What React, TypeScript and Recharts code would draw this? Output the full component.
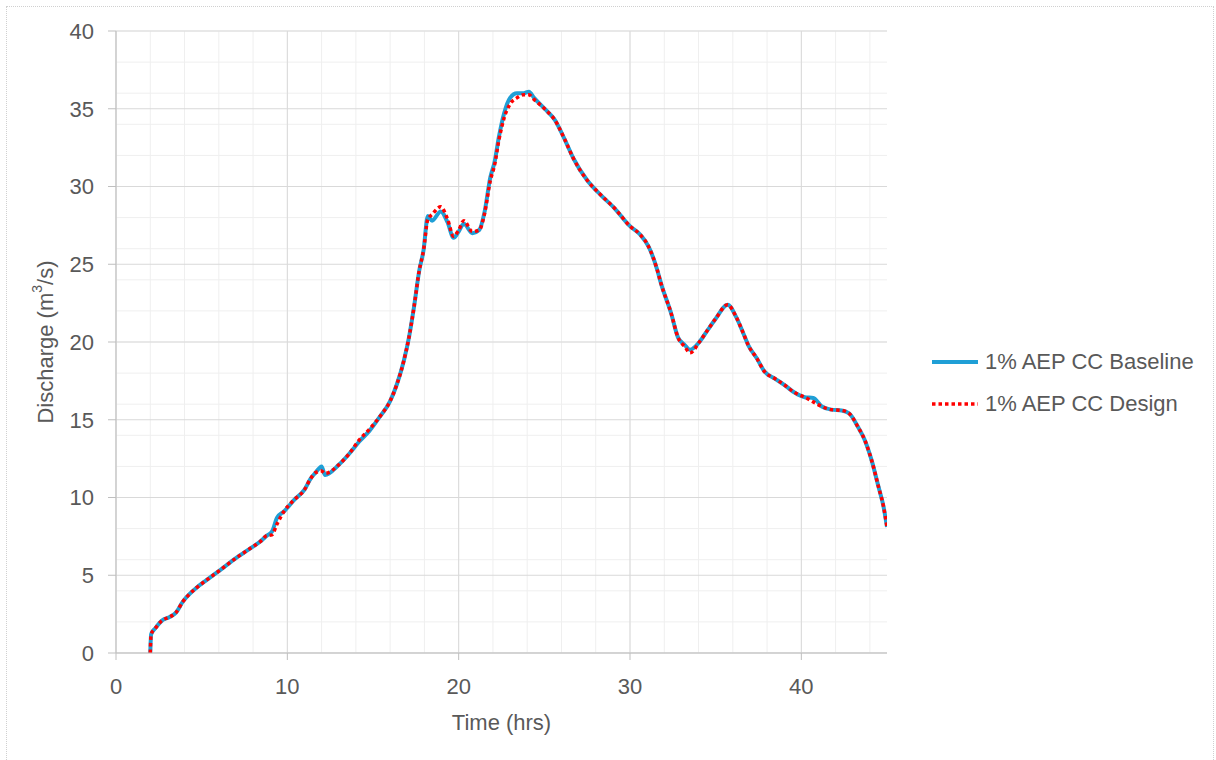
import React from 'react';
import { LineChart, Line, XAxis, YAxis, CartesianGrid, Legend, Label } from 'recharts';

// hydrograph values
const timeHrs = [
  2.0, 2.05, 2.3, 2.7, 3.1, 3.5, 3.9, 4.3, 4.7, 5.3,
  6.1, 7.0, 7.8, 8.4, 8.8, 9.1, 9.4, 9.8, 10.4, 11.0,
  11.35, 11.65, 12.0, 12.2, 13.0, 13.6, 14.2, 14.8, 15.4, 16.0,
  16.4, 16.8, 17.1, 17.4, 17.7, 17.95, 18.2, 18.45, 18.95, 19.35,
  19.7, 20.0, 20.3, 20.8, 21.2, 21.5, 21.85, 22.1, 22.35, 22.65,
  23.0, 23.4, 23.8, 24.1, 24.4, 25.2, 25.6, 26.2, 26.7, 27.5,
  28.3, 29.1, 30.0, 30.6, 31.1, 31.6, 31.8, 32.4, 32.8, 33.2,
  33.5, 34.05, 34.55, 35.0, 35.7, 36.2, 36.6, 36.9, 37.4, 37.85,
  38.45, 39.0, 39.6, 40.2, 40.7, 41.2, 41.75, 42.35, 42.8, 43.3,
  43.7, 44.1, 44.5, 44.8, 45.0,
];

const baselineQ = [
  0, 1.2, 1.6, 2.1, 2.3, 2.6, 3.3, 3.8, 4.2, 4.7,
  5.35, 6.1, 6.7, 7.15, 7.55, 7.8, 8.7, 9.1, 9.85, 10.5,
  11.2, 11.6, 12.0, 11.45, 12.1, 12.8, 13.6, 14.3, 15.2, 16.2,
  17.3, 18.8, 20.3, 22.3, 24.6, 25.9, 28.1, 27.8, 28.4, 27.7,
  26.7, 27.1, 27.6, 27.0, 27.2, 28.3, 30.6, 31.6, 33.2, 34.7,
  35.7, 36.0, 36.0, 36.1, 35.7, 34.8, 34.3, 33.0, 31.8, 30.4,
  29.45, 28.6, 27.45, 26.9, 26.1, 24.6, 23.8, 21.85, 20.3, 19.8,
  19.5, 20.0, 20.8, 21.5, 22.4, 21.6, 20.6, 19.8, 18.95, 18.1,
  17.65, 17.25, 16.75, 16.45, 16.4, 15.85, 15.65, 15.6, 15.4, 14.55,
  13.7, 12.4, 10.7, 9.4, 8.1,
];

const designQ = [
  0, 1.2, 1.6, 2.1, 2.3, 2.6, 3.3, 3.8, 4.2, 4.7,
  5.35, 6.1, 6.7, 7.15, 7.55, 7.6, 8.3, 9.1, 9.85, 10.5,
  11.2, 11.6, 11.7, 11.55, 12.1, 12.8, 13.7, 14.4, 15.2, 16.2,
  17.3, 18.8, 20.3, 22.3, 24.6, 25.9, 27.9, 28.2, 28.7, 27.9,
  26.8, 27.2, 27.8, 27.1, 27.2, 28.2, 30.4, 31.4, 33.0, 34.4,
  35.3, 35.7, 35.9, 35.9, 35.6, 34.8, 34.3, 33.0, 31.8, 30.4,
  29.45, 28.6, 27.45, 26.9, 26.1, 24.6, 23.8, 21.85, 20.3, 19.7,
  19.3, 20.0, 20.8, 21.5, 22.4, 21.6, 20.6, 19.8, 18.95, 18.1,
  17.65, 17.25, 16.75, 16.45, 16.15, 15.85, 15.65, 15.6, 15.4, 14.55,
  13.7, 12.4, 10.7, 9.4, 8.1,
];

const xTicks = [0, 10, 20, 30, 40];
const yTicks = [0, 5, 10, 15, 20, 25, 30, 35, 40];
const xMinor = Array.from({ length: 23 }, (_, i) => i * 2);
const yMinor = Array.from({ length: 41 }, (_, i) => i);

const seriesNames = ['1% AEP CC Baseline', '1% AEP CC Design'];

const data = timeHrs.map((t, i) => ({ t, baseline: baselineQ[i], design: designQ[i] }));

const FONT = '"Liberation Sans", Arial, sans-serif';
const TEXT = '#595959';

const renderLegend = () => (
  <div style={{ fontFamily: FONT, fontSize: 22, color: TEXT }}>
    {seriesNames.map((name, i) => (
      <div key={name} style={{ display: 'flex', alignItems: 'center', height: 42 }}>
        <svg width={46} height={6} style={{ marginRight: 7 }}>
          {i === 0 ? (
            <line x1={0} y1={3} x2={46} y2={3} stroke="#1f9fd6" strokeWidth={4} />
          ) : (
            <line x1={0} y1={3} x2={46} y2={3} stroke="#ff0000" strokeWidth={3.5} strokeDasharray="3.5 3" />
          )}
        </svg>
        <span>{name}</span>
      </div>
    ))}
  </div>
);

const App: React.FC = () => {
  return (
    <div style={{ position: 'absolute', left: 0, top: 0, width: 1216, height: 760, background: '#fff', overflow: 'hidden' }}>
      <div style={{ position: 'absolute', left: 6, top: 6, width: 1206, height: 770, border: '1px dotted #d0d0d0' }} />
      <LineChart
        width={1216}
        height={760}
        data={data}
        margin={{ top: 31, right: 49, left: 56, bottom: 47 }}
        style={{ fontFamily: FONT }}
      >
        <CartesianGrid stroke="#efefef" verticalValues={xMinor} horizontalValues={yMinor} />
        <CartesianGrid stroke="#d9d9d9" verticalValues={xTicks} horizontalValues={yTicks} />
        <XAxis
          dataKey="t"
          type="number"
          domain={[0, 45]}
          ticks={xTicks}
          allowDataOverflow
          height={60}
          stroke="#bfbfbf"
          tickSize={7}
          tickMargin={18}
          tick={{ fill: TEXT, fontSize: 22 }}
        >
          <Label
            content={({ viewBox }: any) => (
              <text x={viewBox.x + viewBox.width / 2} y={722} textAnchor="middle" dominantBaseline="central" fill={TEXT} fontSize={22}>
                Time (hrs)
              </text>
            )}
          />
        </XAxis>
        <YAxis
          type="number"
          domain={[0, 40]}
          ticks={yTicks}
          width={60}
          stroke="#bfbfbf"
          tickSize={8}
          tickMargin={14}
          tick={{ fill: TEXT, fontSize: 22 }}
        >
          <Label
            content={({ viewBox }: any) => {
              const cx = viewBox.x - 11;
              const cy = viewBox.y + viewBox.height / 2;
              return (
                <text x={cx} y={cy} transform={`rotate(-90, ${cx}, ${cy})`} textAnchor="middle" dominantBaseline="central" fill={TEXT} fontSize={22}>
                  Discharge (m<tspan dy={-8} fontSize={14}>3</tspan><tspan dy={8}>/s)</tspan>
                </text>
              );
            }}
          />
        </YAxis>
        <Legend
          layout="horizontal"
          verticalAlign="middle"
          align="right"
          content={renderLegend}
          wrapperStyle={{ left: 932, top: 341, width: 280 }}
        />
        <Line
          type="monotone"
          dataKey="baseline"
          name={seriesNames[0]}
          stroke="#1f9fd6"
          strokeWidth={4}
          dot={false}
          isAnimationActive={false}
        />
        <Line
          type="monotone"
          dataKey="design"
          name={seriesNames[1]}
          stroke="#ff0000"
          strokeWidth={3.5}
          strokeDasharray="3.5 3"
          dot={false}
          isAnimationActive={false}
        />
      </LineChart>
    </div>
  );
};

export default App;
